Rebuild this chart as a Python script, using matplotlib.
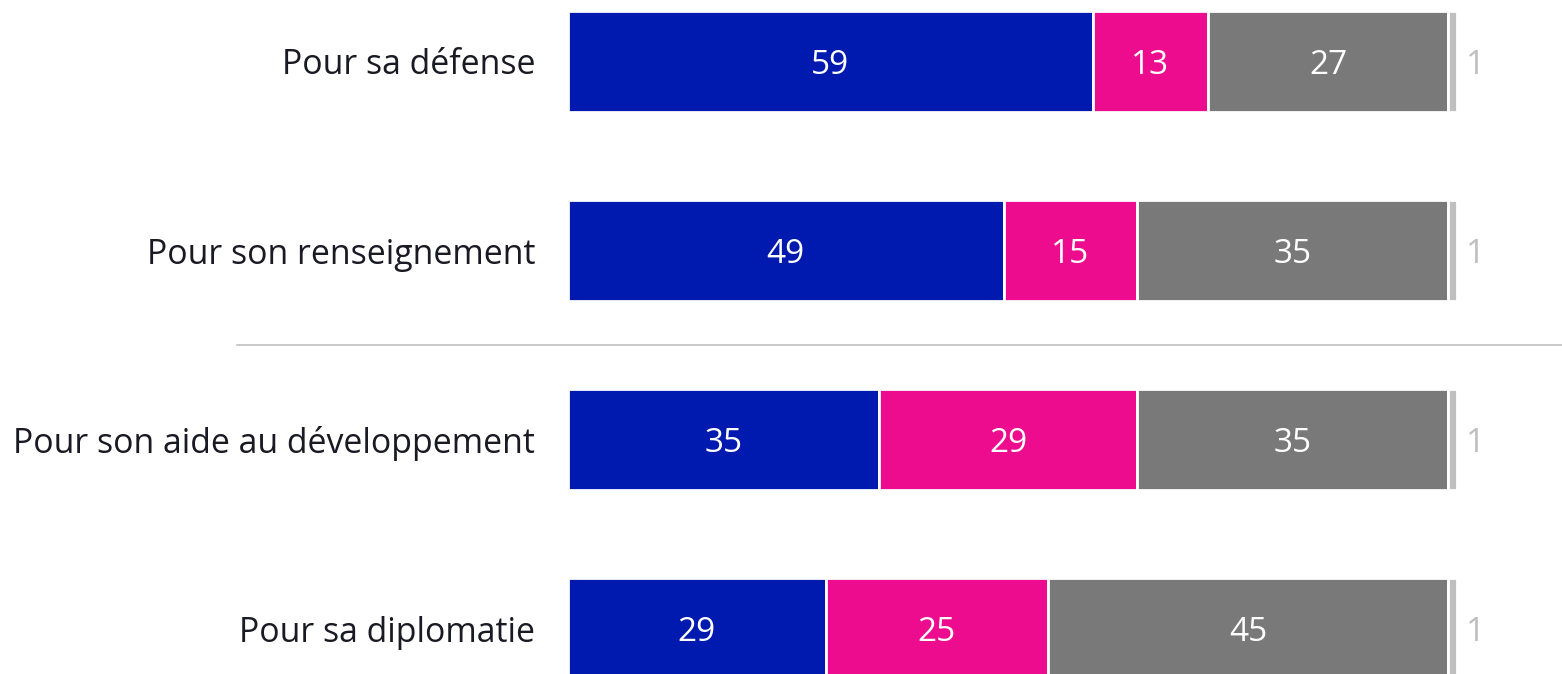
import matplotlib
matplotlib.use("Agg")
import matplotlib.pyplot as plt

categories = ["Pour sa défense", "Pour son renseignement", "Pour son aide au développement", "Pour sa diplomatie"]
s1 = [59, 49, 35, 29]
s2 = [13, 15, 29, 25]
s3 = [27, 35, 35, 45]
s4 = [1, 1, 1, 1]
colors = ["#001AAF", "#EE0C8E", "#797979", "#BFBFBF"]

plt.rcParams['font.family'] = ['Open Sans', 'DejaVu Sans']

fig = plt.figure(figsize=(15.62, 6.74), dpi=100)
ax = fig.add_axes([0, 0, 1, 1])
ax.set_xlim(-568/8.89, (1562-568)/8.89)
ax.set_ylim(674/189 - 61.5/189, -61.5/189)
ax.axis('off')

ys = list(range(len(categories)))
left = [0]*len(categories)
for vals, col in zip([s1, s2, s3, s4], colors):
    ax.barh(ys, vals, left=left, height=0.53, color=col, edgecolor='white', linewidth=2.0)
    for y, l, v in zip(ys, left, vals):
        if col != colors[3]:
            ax.text(l + v/2, y, str(v), ha='center', va='center_baseline', color='white', fontsize=24)
    left = [a + b for a, b in zip(left, vals)]

for y, v, l in zip(ys, s4, left):
    ax.text(102.1, y, str(v), ha='center', va='center_baseline', color='#BFBFBF', fontsize=24)

labels = []
for y, c in zip(ys, categories):
    labels.append(ax.text(-3.7, y, c, ha='right', va='center_baseline', color='#1a1a24', fontsize=20))

# fit label font size so the longest label spans ~521 px as in the reference
fig.canvas.draw()
r = fig.canvas.get_renderer()
w = max(t.get_window_extent(r).width for t in labels)
fs = 20 * 521 / w
for t in labels:
    t.set_fontsize(fs)

ax.plot([(237-568)/8.89, (1562-568)/8.89], [1.5, 1.5], color='#C0C0C0', linewidth=1.2, clip_on=False)

fig.savefig("out.png", dpi=100)
